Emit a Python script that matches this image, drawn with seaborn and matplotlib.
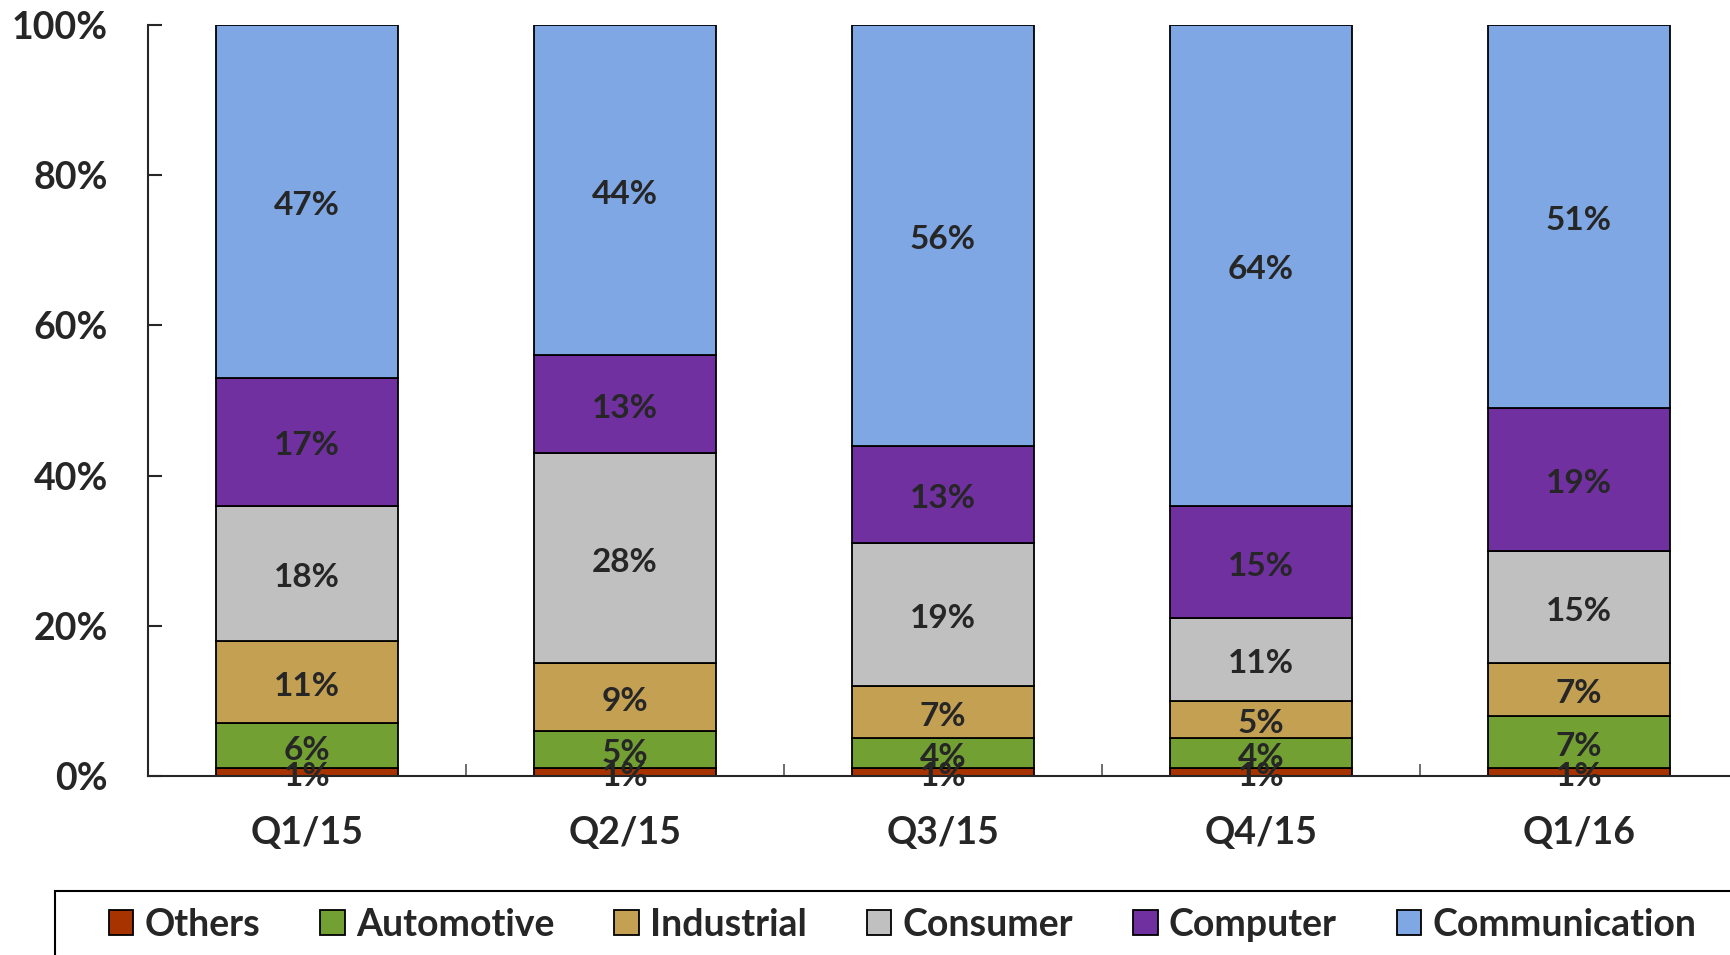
import numpy as np
import pandas as pd
import matplotlib
matplotlib.use('Agg')
import matplotlib.pyplot as plt
import matplotlib.patches as mpatches
from matplotlib.ticker import FixedLocator
import seaborn as sns

# Data
quarters = ['Q1/15', 'Q2/15', 'Q3/15', 'Q4/15', 'Q1/16']
others = [1, 1, 1, 1, 1]
automotive = [6, 5, 4, 4, 7]
industrial = [11, 9, 7, 5, 7]
consumer = [18, 28, 19, 11, 15]
computer = [17, 13, 13, 15, 19]
communication = [47, 44, 56, 64, 51]

series = {
    'Others': others,
    'Automotive': automotive,
    'Industrial': industrial,
    'Consumer': consumer,
    'Computer': computer,
    'Communication': communication,
}
colors = {
    'Others': '#A63300',
    'Automotive': '#72A033',
    'Industrial': '#C4A052',
    'Consumer': '#C0C0C0',
    'Computer': '#7030A0',
    'Communication': '#7FA7E3',
}

sns.set_style('white')
plt.rcParams['font.family'] = ['Lato', 'DejaVu Sans']
plt.rcParams['font.weight'] = 'bold'
W = 'bold'

fig = plt.figure(figsize=(17.31, 9.55), dpi=100)
ax = fig.add_axes([148 / 1731, 179 / 955, 1590 / 1731, 751 / 955])

bottom = np.zeros(len(quarters))
handles = []
for name, vals in series.items():
    vals = np.array(vals, dtype=float)
    sns.barplot(x=quarters, y=vals, bottom=bottom, color=colors[name],
                width=0.57, edgecolor='black', linewidth=1.3, ax=ax,
                saturation=1)
    anns = ax.bar_label(ax.containers[-1], labels=[f'{int(v)}%' for v in vals],
                        label_type='center', fontsize=24, fontweight=W)
    for a in anns:
        a.xyann = (0, -3)
    handles.append(mpatches.Patch(facecolor=colors[name], edgecolor='black',
                                  linewidth=1.3, label=name))
    bottom += vals

ax.set_xlim(-0.5, 4.5)
ax.set_ylim(0, 100)
ax.set_yticks([0, 20, 40, 60, 80, 100])
ax.set_yticklabels([f'{t}%' for t in [0, 20, 40, 60, 80, 100]],
                   fontsize=27, fontweight=W)
ax.set_xticks(range(len(quarters)))
ax.set_xticklabels(quarters, fontsize=27, fontweight=W)
ax.xaxis.set_minor_locator(FixedLocator([0.5, 1.5, 2.5, 3.5]))
ax.tick_params(axis='x', which='major', length=0, pad=29)
ax.tick_params(axis='x', which='minor', direction='in', length=9,
               width=1.2, color='#555555', bottom=True)
ax.tick_params(axis='y', direction='in', length=10, width=1.5,
               pad=29, left=True)
ax.set_xlabel('')
ax.set_ylabel('')
sns.despine(ax=ax, top=True, right=True)
ax.spines['left'].set_linewidth(1.5)
ax.spines['bottom'].set_linewidth(1.5)

fig.legend(handles=handles, loc='center left',
           bbox_to_anchor=(94 / 1731, 30 / 955), ncol=6, frameon=False,
           prop={'size': 27, 'weight': W},
           handlelength=0.65, handleheight=0.65,
           handletextpad=0.3, columnspacing=1.6, borderaxespad=0)
fig.patches.append(mpatches.Rectangle((55 / 1731, -0.05), 1.0,
                                      64 / 955 + 0.05,
                                      transform=fig.transFigure, fill=False,
                                      edgecolor='black', linewidth=1.5))

fig.savefig('out.png', dpi=100)
